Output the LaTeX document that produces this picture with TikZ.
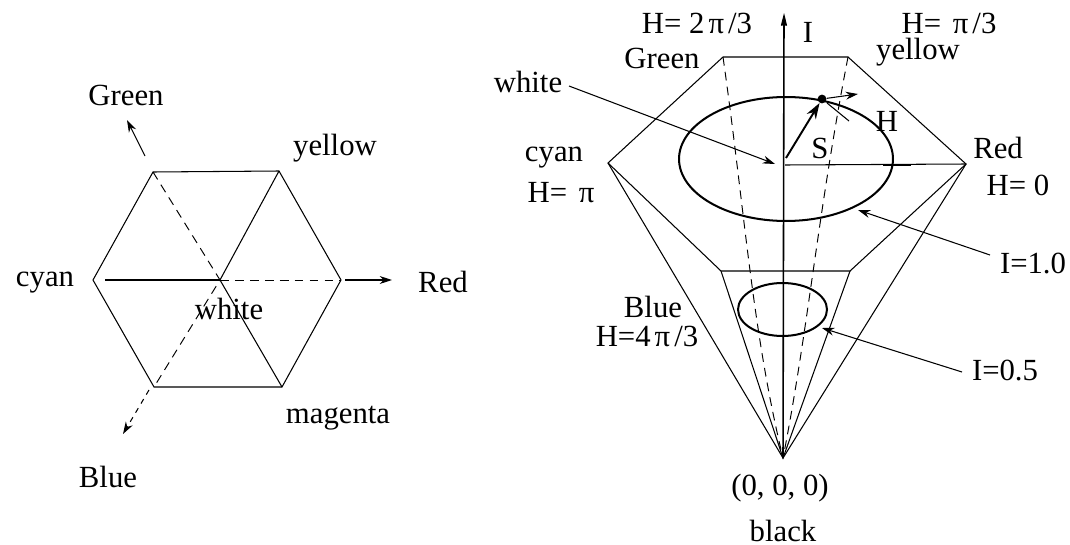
\documentclass[tikz,border=0pt]{standalone}
\usepackage{fontspec}
\setmainfont{Liberation Serif}
\usetikzlibrary{arrows.meta, positioning, shapes.geometric}
\newcommand{\wpi}{\hspace{2.3pt}π\hspace{2.3pt}}

\begin{document}
\begin{tikzpicture}[
x=0.02cm, y=-0.02cm,
lbl/.style={inner sep=0pt, font=\fontsize{17.5}{20}\selectfont},
hexline/.style={line width=0.6pt},
dashline/.style={line width=0.55pt, dash pattern=on 5pt off 3.5pt},
arr/.style={-{Stealth[length=7pt, width=4.5pt]}, line width=0.6pt},
ring/.style={ellipse, draw, line width=1.15pt, inner sep=0pt}
]
\useasboundingbox (0,0) rectangle (1070,544);

\coordinate (cy) at (93,280);
\coordinate (gr) at (153,172);
\coordinate (ye) at (279,171);
\coordinate (re) at (341,280);
\coordinate (ma) at (282,387);
\coordinate (bl) at (154,387);
\coordinate (wh) at (220,280);
\coordinate (cystart) at (105,280);
\coordinate (grfrom) at (145,156);
\coordinate (grto) at (127,120);
\coordinate (refrom) at (345,280);
\coordinate (reto) at (392,280);
\coordinate (blfrom) at (149,390);
\coordinate (blto) at (123,434);

\node[lbl] (Lgreen) at (126,95) {Green};
\node[lbl] (Lyellow) at (335,148) {yellow};
\node[lbl] (Lcyan) at (45,283) {cyan};
\node[lbl] (Lred) at (443,282) {Red};
\node[lbl] (Lwhite) at (229,309) {white};
\node[lbl] (Lmagenta) at (338,418) {magenta};
\node[lbl] (Lblue) at (108,477) {Blue};

\draw[hexline] (cy) -- (gr) -- (ye) -- (re) -- (ma) -- (bl) -- cycle;
\draw[hexline] (cystart) -- (wh);
\draw[hexline] (ye) -- (wh) -- (ma);
\draw[dashline] (wh) -- (re);
\draw[dashline] (gr) -- (wh) -- (bl);
\draw[arr] (grfrom) -- (grto);
\draw[arr] (refrom) -- (reto);
\draw[arr, dashed] (blfrom) -- (blto);

\coordinate (top) at (784,13);
\coordinate (apex) at (783,458);
\coordinate (tl) at (723,57);
\coordinate (tr) at (848,57);
\coordinate (vc) at (608,163);
\coordinate (vr) at (966,164);
\coordinate (ll) at (721,271);
\coordinate (lr) at (850,271);
\coordinate (mid) at (785,165);
\coordinate (tickA) at (883,165);
\coordinate (tickB) at (911,165);
\coordinate (spoint) at (786,158);
\coordinate (hfrom) at (827,103);
\coordinate (hto) at (849,121);
\coordinate (tanto) at (858,94);
\coordinate (whfrom) at (569,86);
\coordinate (whto) at (775,164);
\coordinate (fullfrom) at (990,255);
\coordinate (halffrom) at (962,372);
\coordinate (ringtipA) at (858,210);
\coordinate (ringtipB) at (822,328);

\node[ring, minimum width=4.28cm, minimum height=2.48cm] (ringA) at (786,159) {};
\node[ring, minimum width=1.78cm, minimum height=1.06cm] (ringB) at (782.5,309.5) {};
\node[circle, fill, inner sep=0pt, minimum size=5pt] (sat) at (822,99) {};

\node[lbl] (Ltwo) at (697,23) {H= 2\wpi/3};
\node[lbl] (Lone) at (949,23) {H= \wpi/3};
\node[lbl] (Li) at (808,32) {I};
\node[lbl] (Ryellow) at (918,52) {yellow};
\node[lbl] (Rgreen) at (662,58) {Green};
\node[lbl] (Rwhite) at (528,82) {white};
\node[lbl] (Rcyan) at (554,158) {cyan};
\node[lbl] (Rpi) at (561,193) {H= \wpi};
\node[lbl] (Rred) at (998,148) {Red};
\node[lbl] (Rzero) at (1018,185) {H= 0};
\node[lbl] (Rh) at (887,121) {H};
\node[lbl] (Rs) at (820,148) {S};
\node[lbl] (Rfull) at (1033,263) {I=1.0};
\node[lbl] (Rhalf) at (1005,370) {I=0.5};
\node[lbl] (Rblue) at (653,307) {Blue};
\node[lbl] (Rfour) at (647,336) {H=4\wpi/3};
\node[lbl] (Rorigin) at (780,488) {(0, 0, 0)};
\node[lbl] (Rblack) at (783,531) {black};

\draw[hexline] (tl) -- (tr) -- (vr) -- (lr) -- (ll) -- (vc) -- cycle;
\draw[hexline] (vc) -- (apex) -- (vr);
\draw[hexline] (ll) -- (apex) -- (lr);
\draw[-{Stealth[length=14pt, width=7pt, inset=9pt]}, line width=0.9pt] (apex) -- (top);
\draw[hexline] (mid) -- (vr);
\draw[line width=1.4pt] (tickA) -- (tickB);
\draw[dashline] (tl) .. controls (745,212) and (752,330) .. (apex);
\draw[dashline] (tr) .. controls (818,212) and (808,330) .. (apex);
\draw[line width=1.1pt, -{Stealth[length=9pt, width=6pt]}] (spoint) -- (sat);
\draw[hexline] (hfrom) -- (hto);
\draw[arr] (sat) -- (tanto);
\draw[arr] (whfrom) -- (whto);
\draw[arr] (fullfrom) -- (ringtipA);
\draw[arr] (halffrom) -- (ringtipB);
\end{tikzpicture}
\end{document}
